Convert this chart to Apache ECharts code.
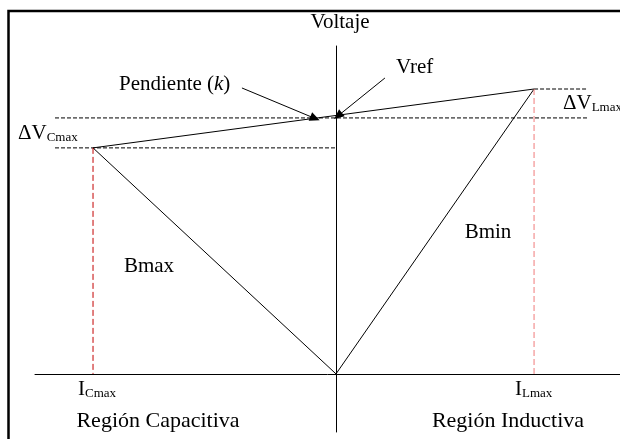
<!DOCTYPE html>
<html>
<head>
<meta charset="utf-8">
<script src="https://cdn.jsdelivr.net/npm/echarts@6/dist/echarts.min.js"></script>
<style>
  html, body { margin: 0; padding: 0; background: #ffffff; overflow: hidden; }
  #chart { width: 620px; height: 439px; }
</style>
</head>
<body>
<div id="chart"></div>
<script>
// corrientes (eje x) y tensiones (eje y), en por unidad
const iCmax = -1.227, iLmax = 1.0;
const vRef = 1.0, vCmax = 0.883, vLmax = 1.113;
// extremos de las líneas de trazos horizontales
const dashLeft = -1.419, dashRight = 1.268;
// flechas de anotación: [inicio, punta]
const arrowPendiente = [[-0.475, 1.117], [-0.106, 0.998]];
const arrowVref = [[0.247, 1.156], [0.010, 1.008]];

const serif = 'Liberation Serif';

let chart = echarts.init(document.getElementById('chart'));

function seg(data, color, type, width) {
  return {
    type: 'line',
    data: data,
    symbol: 'none',
    silent: true,
    lineStyle: { color: color, type: type || 'solid', width: width || 1 }
  };
}

// texto con subíndice pequeño (ΔV_Cmax, I_Lmax...)
function subText(x, y, main, sub) {
  return {
    type: 'text', x: x, y: y,
    style: {
      text: '{a|' + main + '}{b|' + sub + '}',
      verticalAlign: 'middle',
      rich: {
        a: { fontFamily: serif, fontSize: 21, lineHeight: 22, fill: '#000' },
        b: { fontFamily: serif, fontSize: 13, lineHeight: 16, verticalAlign: 'bottom', fill: '#000' }
      }
    }
  };
}

function plainText(x, y, txt, size, align) {
  return {
    type: 'text', x: x, y: y,
    style: { text: txt, font: size + 'px ' + serif, fill: '#000', align: align || 'center', verticalAlign: 'middle' }
  };
}

let option = {
  animation: false,
  backgroundColor: '#ffffff',
  grid: { left: 35, right: 0, top: 46, bottom: 7 },
  xAxis: {
    type: 'value',
    min: -1.520,
    max: 1.434,
    axisLine: { onZero: true, lineStyle: { color: '#000', width: 1 } },
    axisTick: { show: false },
    axisLabel: { show: false },
    splitLine: { show: false }
  },
  yAxis: {
    type: 'value',
    min: -0.227,
    max: 1.281,
    axisLine: { onZero: true, lineStyle: { color: '#000', width: 1 } },
    axisTick: { show: false },
    axisLabel: { show: false },
    splitLine: { show: false }
  },
  series: [
    // característica V-I con la pendiente
    Object.assign(seg([[iCmax, vCmax], [iLmax, vLmax]], '#000'), {
      markLine: {
        silent: true,
        symbol: ['none', 'triangle'],
        symbolSize: [9, 10],
        label: { show: false },
        lineStyle: { color: '#000', type: 'solid', width: 1 },
        data: [
          [{ coord: arrowPendiente[0] }, { coord: arrowPendiente[1] }],
          [{ coord: arrowVref[0] }, { coord: arrowVref[1] }]
        ]
      }
    }),
    // Bmax y Bmin
    seg([[iCmax, vCmax], [0, 0], [iLmax, vLmax]], '#000'),
    // referencias de tensión
    seg([[dashLeft, vRef], [dashRight, vRef]], '#000', [4, 2]),
    seg([[iLmax, vLmax], [dashRight, vLmax]], '#000', [4, 2]),
    seg([[dashLeft, vCmax], [0, vCmax]], '#000', [4, 2]),
    // corrientes máximas
    seg([[iCmax, vCmax], [iCmax, 0]], '#c40000', [6, 3]),
    seg([[iLmax, vLmax], [iLmax, 0]], '#f07a7a', [6, 3])
  ],
  graphic: [
    // marco: solo se ven los bordes izquierdo y superior
    {
      type: 'rect', z: -1, silent: true,
      shape: { x: 8.5, y: 11, width: 2000, height: 2000 },
      style: { fill: 'none', stroke: '#000', lineWidth: 2.5 }
    },
    plainText(340, 22, 'Voltaje', 21),
    {
      type: 'text', x: 119, y: 84,
      style: {
        text: '{a|Pendiente (}{k|k}{a|)}',
        verticalAlign: 'middle',
        rich: {
          a: { fontFamily: serif, fontSize: 21, fill: '#000' },
          k: { fontFamily: serif, fontSize: 21, fontStyle: 'italic', fill: '#000' }
        }
      }
    },
    plainText(396, 67, 'Vref', 21, 'left'),
    subText(18, 133, 'ΔV', 'Cmax'),
    subText(563, 103, 'ΔV', 'Lmax'),
    plainText(149, 266, 'Bmax', 21),
    plainText(488, 232, 'Bmin', 21),
    subText(78, 389, 'I', 'Cmax'),
    subText(515, 389, 'I', 'Lmax'),
    plainText(158, 421, 'Región Capacitiva', 22),
    plainText(508, 421, 'Región Inductiva', 22)
  ]
};

chart.setOption(option);
</script>
</body>
</html>
